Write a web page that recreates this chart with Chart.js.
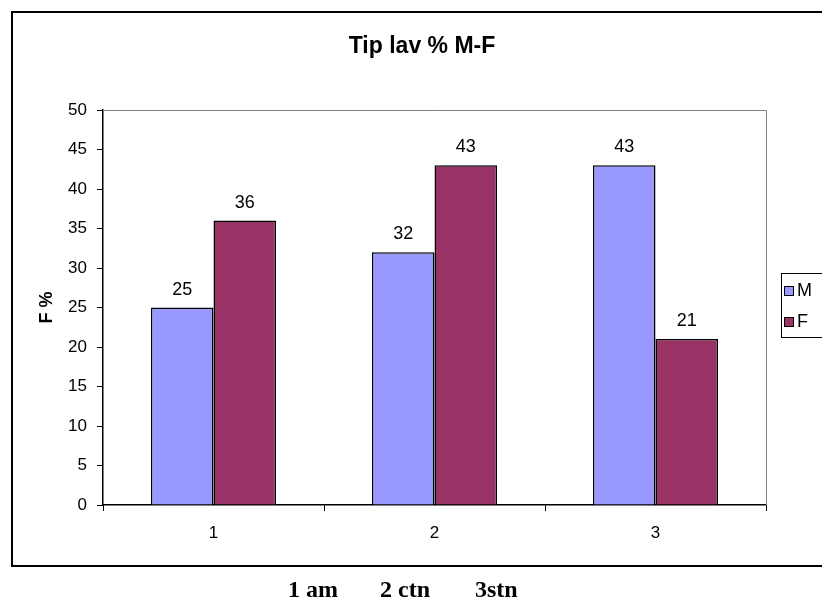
<!DOCTYPE html>
<html>
<head>
<meta charset="utf-8">
<script src="https://cdn.jsdelivr.net/npm/chart.js@4/dist/chart.umd.min.js"></script>
<style>
  html, body { margin: 0; padding: 0; background: #fff; overflow: hidden; }
  #wrap { position: relative; width: 822px; height: 601px; }
</style>
</head>
<body>
<div id="wrap"><canvas id="c" width="822" height="601"></canvas></div>
<script>
// Data
const categories = ['1', '2', '3'];
const seriesM = [25, 32, 43];
const seriesF = [36, 43, 21];
const seriesNames = ['M', 'F'];
const yTicks = [0, 5, 10, 15, 20, 25, 30, 35, 40, 45, 50];
const chartTitle = 'Tip lav % M-F';
const yTitle = 'F %';
const captionParts = ['1 am', '2 ctn', '3stn'];

const SANS = "'Liberation Sans', Arial, sans-serif";
const SERIF = "'Liberation Serif', 'Times New Roman', serif";

// Frame, title, value labels, legend and caption
const decor = {
  id: 'decor',
  beforeDatasetsDraw(chart) {
    const ctx = chart.ctx, a = chart.chartArea;
    ctx.save();
    ctx.strokeStyle = '#808080';
    ctx.lineWidth = 1;
    ctx.beginPath();
    ctx.moveTo(a.left, a.top + 0.5);
    ctx.lineTo(a.right + 0.5, a.top + 0.5);
    ctx.lineTo(a.right + 0.5, a.bottom);
    ctx.stroke();
    ctx.restore();
  },
  afterDraw(chart) {
    const ctx = chart.ctx;
    ctx.save();
    // outer frame (runs past the right edge)
    ctx.strokeStyle = '#000';
    ctx.lineWidth = 2;
    ctx.strokeRect(12, 12, 830, 554);

    // title
    ctx.fillStyle = '#000';
    ctx.font = 'bold 23px ' + SANS;
    ctx.textAlign = 'center';
    ctx.textBaseline = 'alphabetic';
    ctx.fillText(chartTitle, 422, 53);

    // value labels
    ctx.font = '18px ' + SANS;
    chart.data.datasets.forEach((ds, i) => {
      chart.getDatasetMeta(i).data.forEach((bar, j) => {
        ctx.fillText(String(ds.data[j]), bar.x, bar.y - 13);
      });
    });

    // legend
    ctx.lineWidth = 1;
    ctx.strokeRect(781.5, 273.5, 60, 64);
    ctx.textAlign = 'left';
    ctx.textBaseline = 'middle';
    ctx.font = '18px ' + SANS;
    chart.data.datasets.forEach((ds, i) => {
      const y = 291 + i * 31;
      ctx.fillStyle = ds.backgroundColor;
      ctx.fillRect(784, y - 5, 9, 9);
      ctx.strokeStyle = '#000';
      ctx.strokeRect(784.5, y - 4.5, 9, 9);
      ctx.fillStyle = '#000';
      ctx.fillText(ds.label, 797, y);
    });

    // caption under the frame
    ctx.font = 'bold 24px ' + SERIF;
    ctx.textBaseline = 'alphabetic';
    const xs = [288, 380, 475];
    captionParts.forEach((t, i) => ctx.fillText(t, xs[i], 597));
    ctx.restore();
  }
};

new Chart(document.getElementById('c'), {
  type: 'bar',
  data: {
    labels: categories,
    datasets: [
      { label: seriesNames[0], data: seriesM, backgroundColor: '#9999FF', borderColor: '#000', borderWidth: 1.5 },
      { label: seriesNames[1], data: seriesF, backgroundColor: '#993366', borderColor: '#000', borderWidth: 1.5 }
    ]
  },
  options: {
    responsive: false,
    animation: false,
    events: [],
    layout: { padding: { left: 36, top: 110, right: 56, bottom: 56 } },
    datasets: { bar: { categoryPercentage: 0.566, barPercentage: 1 } },
    plugins: { legend: { display: false }, title: { display: false }, tooltip: { enabled: false } },
    scales: {
      x: {
        grid: { display: true, drawOnChartArea: false, tickLength: 6, color: '#000', offset: true },
        border: { display: true, color: '#000', width: 1.5 },
        ticks: { color: '#000', font: { family: SANS, size: 17 }, padding: 12 },
        afterFit(s) { s.height = 40; }
      },
      y: {
        min: 0, max: 50,
        afterBuildTicks(s) { s.ticks = yTicks.map(v => ({ value: v })); },
        grid: { display: true, drawOnChartArea: false, tickLength: 6, color: '#000' },
        border: { display: true, color: '#000', width: 1.5 },
        ticks: { color: '#000', font: { family: SANS, size: 17 }, padding: 10 },
        title: { display: true, text: yTitle, color: '#000', font: { family: SANS, size: 18, weight: 'bold' }, padding: 0 },
        afterFit(s) { s.width = 67; }
      }
    }
  },
  plugins: [decor]
});
</script>
</body>
</html>
